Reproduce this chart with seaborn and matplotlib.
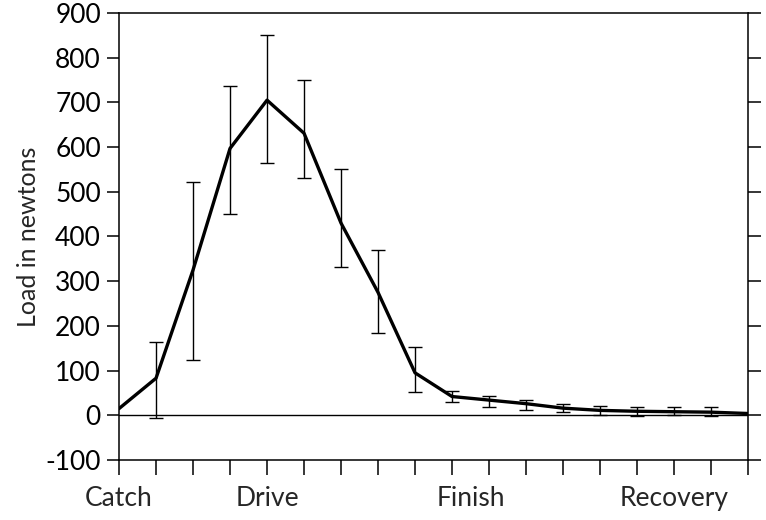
import numpy as np
import pandas as pd
import matplotlib
matplotlib.use("Agg")
import matplotlib.pyplot as plt
import seaborn as sns

# stroke samples (18 points through one stroke)
sample = list(range(18))
load = [15, 83, 325, 597, 705, 631, 430, 275, 95, 42, 34, 26, 16, 11, 9, 8, 7, 4]
# ends of the error bars (nan = no bar)
err_high = [np.nan, 165, 521, 737, 851, 750, 552, 370, 152, 54, 44, 34, 25, 21, 19, 19, 18, np.nan]
err_low = [np.nan, -7, 124, 450, 564, 530, 332, 185, 51, 29, 19, 12, 7, 1, -1, 0, -2, np.nan]

phases = ["Catch", "Drive", "Finish", "Recovery"]
phase_pos = [0, 4, 9.5, 15]

y_ticks = list(range(-100, 1000, 100))

df = pd.DataFrame({"sample": sample, "load": load, "hi": err_high, "lo": err_low})

sns.set_style("ticks")
plt.rcParams["font.family"] = ["Lato", "DejaVu Sans"]

fig = plt.figure(figsize=(7.66, 5.2), dpi=100)
ax = fig.add_axes([0.1554, 0.1154, 0.8211, 0.8596])

ax.axhline(0, color="black", lw=1.0, zorder=1)

has_err = df.dropna()
ax.errorbar(has_err["sample"], has_err["load"],
            yerr=[has_err["load"] - has_err["lo"], has_err["hi"] - has_err["load"]],
            fmt="none", ecolor="black", elinewidth=1.0, capsize=5, capthick=1.0, zorder=2)
sns.lineplot(data=df, x="sample", y="load", color="black", lw=2.4, ax=ax, zorder=3)

ax.set_xlim(0, 17)
ax.set_ylim(-100, 900)
ax.set_xticks(sample)
ax.set_xticklabels([])
ax.set_yticks(y_ticks)
ax.set_yticklabels([str(v) for v in y_ticks], fontsize=19)
ax.tick_params(axis="y", which="both", direction="out", length=9, width=1.1,
               right=True, left=True, pad=4, colors="black")
ax.tick_params(axis="x", direction="out", length=11, width=1.1, colors="black")

for p, name in zip(phase_pos, phases):
    ax.text(p, -0.058, name, transform=ax.get_xaxis_transform(),
            ha="center", va="top", fontsize=19)

ax.set_xlabel("")
ax.set_ylabel("Load in newtons", fontsize=18, labelpad=4)

for s in ax.spines.values():
    s.set_visible(True)
    s.set_linewidth(1.1)
    s.set_color("black")

fig.savefig("out.png", dpi=100)
